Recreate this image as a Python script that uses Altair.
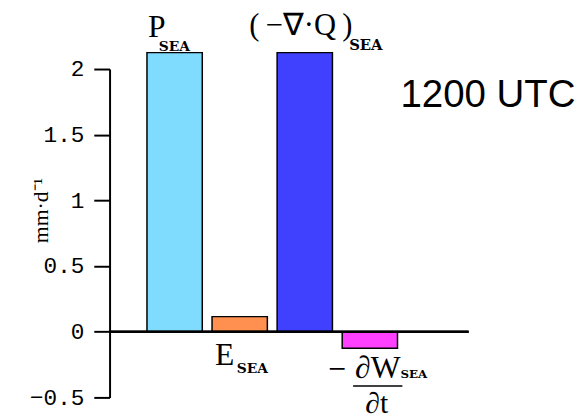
import altair as alt
import pandas as pd

# ---- data ----
categories = ["P", "E", "D", "W"]
values = [2.125, 0.115, 2.125, -0.125]
colors = ["#80DCFF", "#FF9050", "#4040FF", "#FF40FF"]
tick_values = [-0.5, 0, 0.5, 1, 1.5, 2]

bars_df = pd.DataFrame({"cat": categories, "value": values})

xscale = alt.Scale(domain=categories, paddingInner=0.15, paddingOuter=0.833, align=0.345)
yscale = alt.Scale(domain=[-0.5, 2], nice=False, zero=False)

y_axis = alt.Axis(
    values=tick_values,
    format=".1~f",
    title="mm·d⁻¹",
    titleX=-63,
    titleY=143,
    labelFontSize=23,
    titleFontSize=22,
    labelFont="Liberation Mono",
    titleFont="Liberation Serif",
    labelPadding=10,
)

bars = alt.Chart(bars_df).mark_bar(stroke="black", strokeWidth=1.5).encode(
    x=alt.X("cat:N", scale=xscale, axis=None, sort=None),
    y=alt.Y("value:Q", scale=yscale, axis=y_axis),
    color=alt.Color("cat:N", scale=alt.Scale(domain=categories, range=colors), legend=None),
)

zero = alt.Chart(bars_df).mark_rule(color="black", strokeWidth=2).encode(
    y=alt.Y(datum=0, scale=yscale, axis=y_axis)
)


def label(cat, anchor, text, dx, dy, size, font="Liberation Serif", weight="normal", align="left"):
    df = pd.DataFrame({"cat": [cat], "value": [anchor], "t": [text]})
    return alt.Chart(df).mark_text(
        dx=dx, dy=dy, fontSize=size, font=font, fontWeight=weight,
        align=align, baseline="alphabetic", color="black",
    ).encode(
        x=alt.X("cat:N", scale=xscale, axis=None),
        y=alt.Y("value:Q", scale=yscale, axis=y_axis),
        text="t:N",
    )


sub_font = "DejaVu Serif"
labels = [
    label("P", values[0], "P", -27, -16, 32),
    label("P", values[0], "SEA", -16, -2, 14, sub_font, "bold"),
    label("D", values[2], "(\u2009−∇·Q\u2009)", -4, -18, 31, align="center"),
    label("D", values[2], "SEA", 45, -3, 15, sub_font, "bold"),
    label("E", 0, "E", -25, 34, 32),
    label("E", 0, "SEA", -3, 42, 14, sub_font, "bold"),
    label("W", 0, "−", -43, 45, 24, sub_font),
    label("W", 0, "∂W", -15, 47, 32),
    label("W", 0, "SEA", 31, 47, 12, sub_font, "bold"),
    label("W", 0, "∂t", 7, 82, 30, align="center"),
    label("W", 2, "1200 UTC", 31, 38, 39, font="Liberation Sans"),
]

frac_df = pd.DataFrame({"cat": ["W"], "value": [0]})
frac = alt.Chart(frac_df).mark_tick(
    size=50, thickness=1.5, color="black", xOffset=8, yOffset=55, opacity=1
).encode(
    x=alt.X("cat:N", scale=xscale, axis=None),
    y=alt.Y("value:Q", scale=yscale, axis=y_axis),
)

chart = alt.layer(bars, zero, frac, *labels).properties(
    width=364,
    height=333,
    autosize=alt.AutoSizeParams(type="none"),
    padding={"left": 103, "top": 59, "right": 109, "bottom": 19},
    background="white",
).configure_view(
    stroke=None
).configure_axisY(
    grid=False,
    domainColor="black",
    domainWidth=2,
    tickColor="black",
    tickWidth=2,
    tickSize=16,
    labelColor="black",
    titleFontWeight="normal",
    titleColor="black",
    titleAngle=-90,
    titleBaseline="alphabetic",
    titleAlign="center",
)

chart.save("out.html", embed_options={"renderer": "svg", "actions": False})
